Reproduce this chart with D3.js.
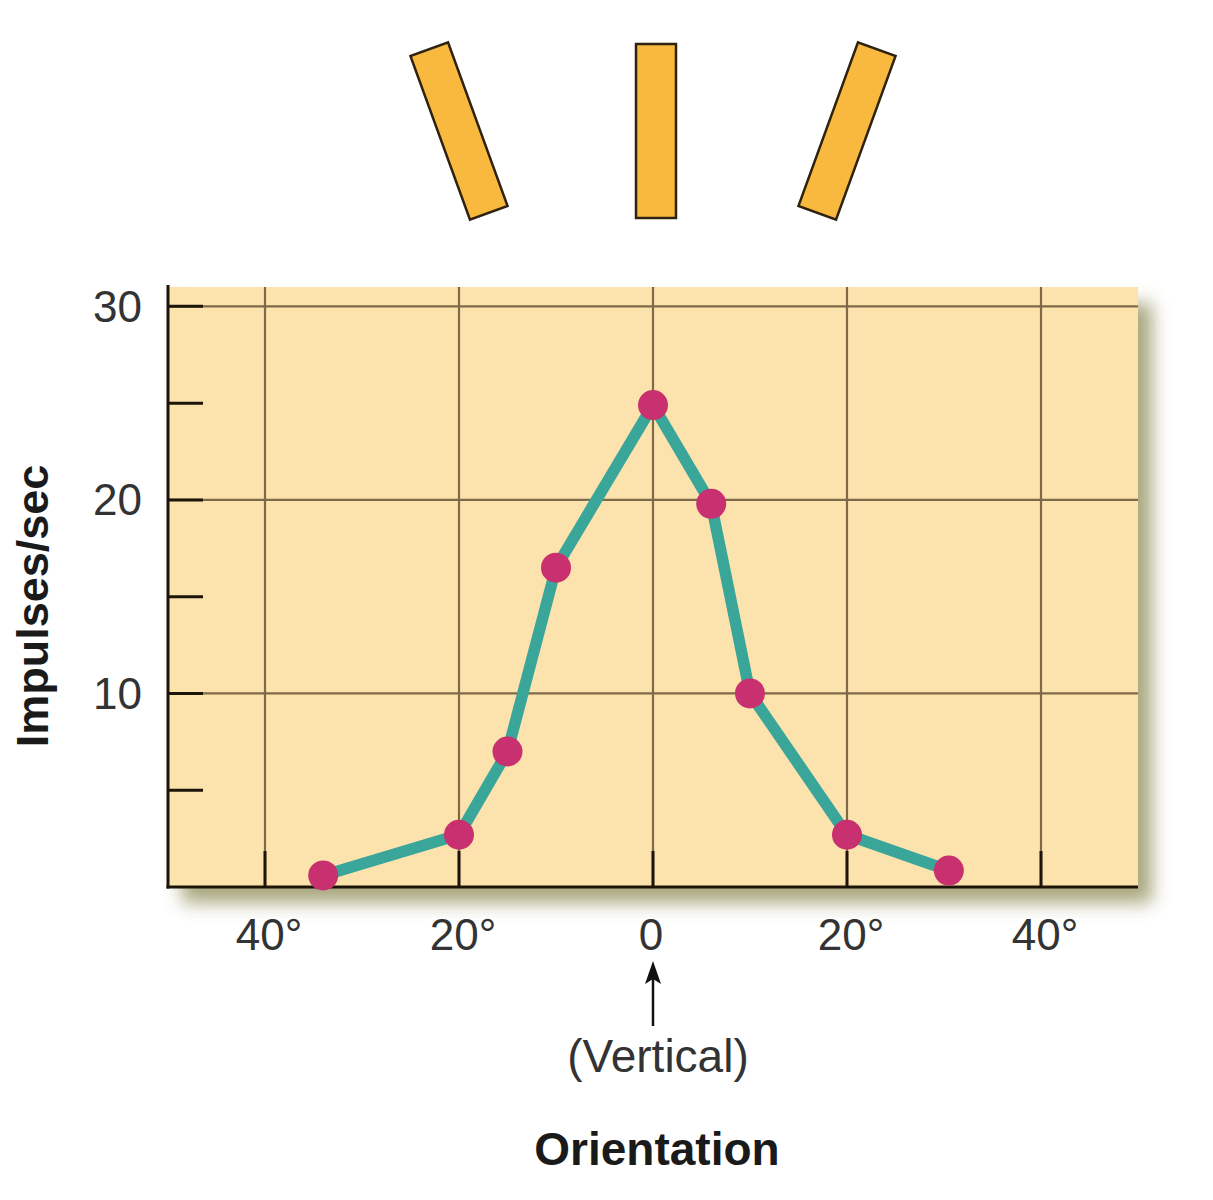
<!DOCTYPE html>
<html>
<head>
<meta charset="utf-8">
<script src="https://cdn.jsdelivr.net/npm/d3@7"></script>
<style>
  html, body { margin: 0; padding: 0; background: #fff; }
  #app { width: 1213px; height: 1200px; }
</style>
</head>
<body>
<div id="app"></div>
<script>
// ============================================================
// DATA
// ============================================================

// stimulus orientation (degrees from vertical) and firing rate
const orientation = [-34, -20, -15, -10, 0, 6, 10, 20, 30.5];
const impulses = [0.6, 2.7, 7.0, 16.5, 24.9, 19.8, 10.0, 2.7, 0.85];

// bars drawn above the chart
const barAngles = [-20, 0, 20];

// axis ticks
const xTicks = [-40, -20, 0, 20, 40];
const xTickLabels = ['40°', '20°', '0', '20°', '40°'];
const yMinorTicks = [5, 15, 25];
const yMajorTicks = [10, 20, 30];

function main() {
  const W = 1213, H = 1200;
  const left = 168, right = 1138, top = 287, bottom = 887;

  const svg = d3.select('#app')
    .append('svg')
    .attr('width', W)
    .attr('height', H)
    .style('font-family', '"Liberation Sans", Arial, Helvetica, sans-serif');

  // ============================================================
  // Scales
  // ============================================================
  const x = d3.scaleLinear().domain([-50, 50]).range([left, right]);
  const y = d3.scaleLinear().domain([0, 31]).range([bottom, top]);

  // shadow filter for the plot panel
  const defs = svg.append('defs');
  const f = defs.append('filter').attr('id', 'shadow')
    .attr('x', '-10%').attr('y', '-10%').attr('width', '130%').attr('height', '130%');
  f.append('feGaussianBlur').attr('stdDeviation', 9);

  // ============================================================
  // Panel background
  // ============================================================
  svg.append('rect')
    .attr('x', left + 14).attr('y', top + 16)
    .attr('width', right - left).attr('height', bottom - top)
    .attr('fill', '#94925f')
    .attr('opacity', 0.8)
    .attr('filter', 'url(#shadow)');

  svg.append('rect')
    .attr('x', left).attr('y', top)
    .attr('width', right - left).attr('height', bottom - top)
    .attr('fill', '#fce3ae');

  // grid lines
  const grid = svg.append('g')
    .attr('stroke', '#7e6a48')
    .attr('stroke-width', 2.2);

  grid.selectAll('line.v').data(xTicks).join('line')
    .attr('class', 'v')
    .attr('x1', d => x(d)).attr('x2', d => x(d))
    .attr('y1', top).attr('y2', bottom);

  grid.selectAll('line.h').data(yMajorTicks).join('line')
    .attr('class', 'h')
    .attr('x1', left).attr('x2', right)
    .attr('y1', d => y(d)).attr('y2', d => y(d));

  // ============================================================
  // Axes (inward ticks, drawn by hand on top of the grid)
  // ============================================================
  const axes = svg.append('g')
    .attr('stroke', '#1c1408')
    .attr('stroke-width', 3);

  axes.append('line')
    .attr('x1', left).attr('x2', left)
    .attr('y1', top - 2).attr('y2', bottom + 1.5);
  axes.append('line')
    .attr('x1', left - 1.5).attr('x2', right)
    .attr('y1', bottom).attr('y2', bottom);

  axes.selectAll('line.yt').data(yMinorTicks.concat(yMajorTicks)).join('line')
    .attr('class', 'yt')
    .attr('x1', left).attr('x2', left + 35)
    .attr('y1', d => y(d)).attr('y2', d => y(d));

  axes.selectAll('line.xt').data(xTicks).join('line')
    .attr('class', 'xt')
    .attr('x1', d => x(d)).attr('x2', d => x(d))
    .attr('y1', bottom).attr('y2', bottom - 36);

  // tick labels
  svg.append('g').selectAll('text').data(yMajorTicks).join('text')
    .attr('x', left - 26)
    .attr('y', d => y(d))
    .attr('dy', '0.35em')
    .attr('text-anchor', 'end')
    .attr('font-size', 44)
    .attr('fill', '#333')
    .text(d => d);

  svg.append('g').selectAll('text').data(xTicks).join('text')
    .attr('x', (d, i) => x(d) + (xTickLabels[i].includes('°') ? 4 : -2))
    .attr('y', 950)
    .attr('text-anchor', 'middle')
    .attr('font-size', 44)
    .attr('fill', '#333')
    .text((d, i) => xTickLabels[i]);

  // ============================================================
  // Line + points
  // ============================================================
  const pts = orientation.map((o, i) => [o, impulses[i]]);

  svg.append('path')
    .datum(pts)
    .attr('fill', 'none')
    .attr('stroke', '#3aa69a')
    .attr('stroke-width', 11.5)
    .attr('stroke-linejoin', 'round')
    .attr('d', d3.line().x(d => x(d[0])).y(d => y(d[1])));

  svg.append('g').selectAll('circle').data(pts).join('circle')
    .attr('cx', d => x(d[0]))
    .attr('cy', d => y(d[1]))
    .attr('r', 15)
    .attr('fill', '#c8306f');

  // ============================================================
  // Oriented bars above the chart
  // ============================================================
  const barLen = 174, barWid = 40, barCy = 131;
  svg.append('g').selectAll('rect').data(barAngles).join('rect')
    .attr('x', -barWid / 2).attr('y', -barLen / 2)
    .attr('width', barWid).attr('height', barLen)
    .attr('transform', d => `translate(${x(d) + (d === 0 ? 3 : 0)},${barCy}) rotate(${d})`)
    .attr('fill', '#f8b93e')
    .attr('stroke', '#2e2210')
    .attr('stroke-width', 2.5);

  // ============================================================
  // Annotations
  // ============================================================
  svg.append('line')
    .attr('x1', x(0)).attr('x2', x(0))
    .attr('y1', 1026).attr('y2', 978)
    .attr('stroke', '#111')
    .attr('stroke-width', 2.5);
  svg.append('path')
    .attr('d', d3.line()([[x(0), 961], [x(0) - 8, 984], [x(0), 979], [x(0) + 8, 984]]) + 'Z')
    .attr('fill', '#111');

  svg.append('text')
    .attr('x', 658).attr('y', 1072)
    .attr('text-anchor', 'middle')
    .attr('font-size', 46)
    .attr('fill', '#333')
    .text('(Vertical)');

  svg.append('text')
    .attr('x', 657).attr('y', 1165)
    .attr('text-anchor', 'middle')
    .attr('font-size', 46)
    .attr('font-weight', 'bold')
    .attr('fill', '#1a1a1a')
    .text('Orientation');

  svg.append('text')
    .attr('transform', 'translate(48,606) rotate(-90)')
    .attr('text-anchor', 'middle')
    .attr('font-size', 45)
    .attr('font-weight', 'bold')
    .attr('fill', '#1a1a1a')
    .text('Impulses/sec');
}

main();
</script>
</body>
</html>
